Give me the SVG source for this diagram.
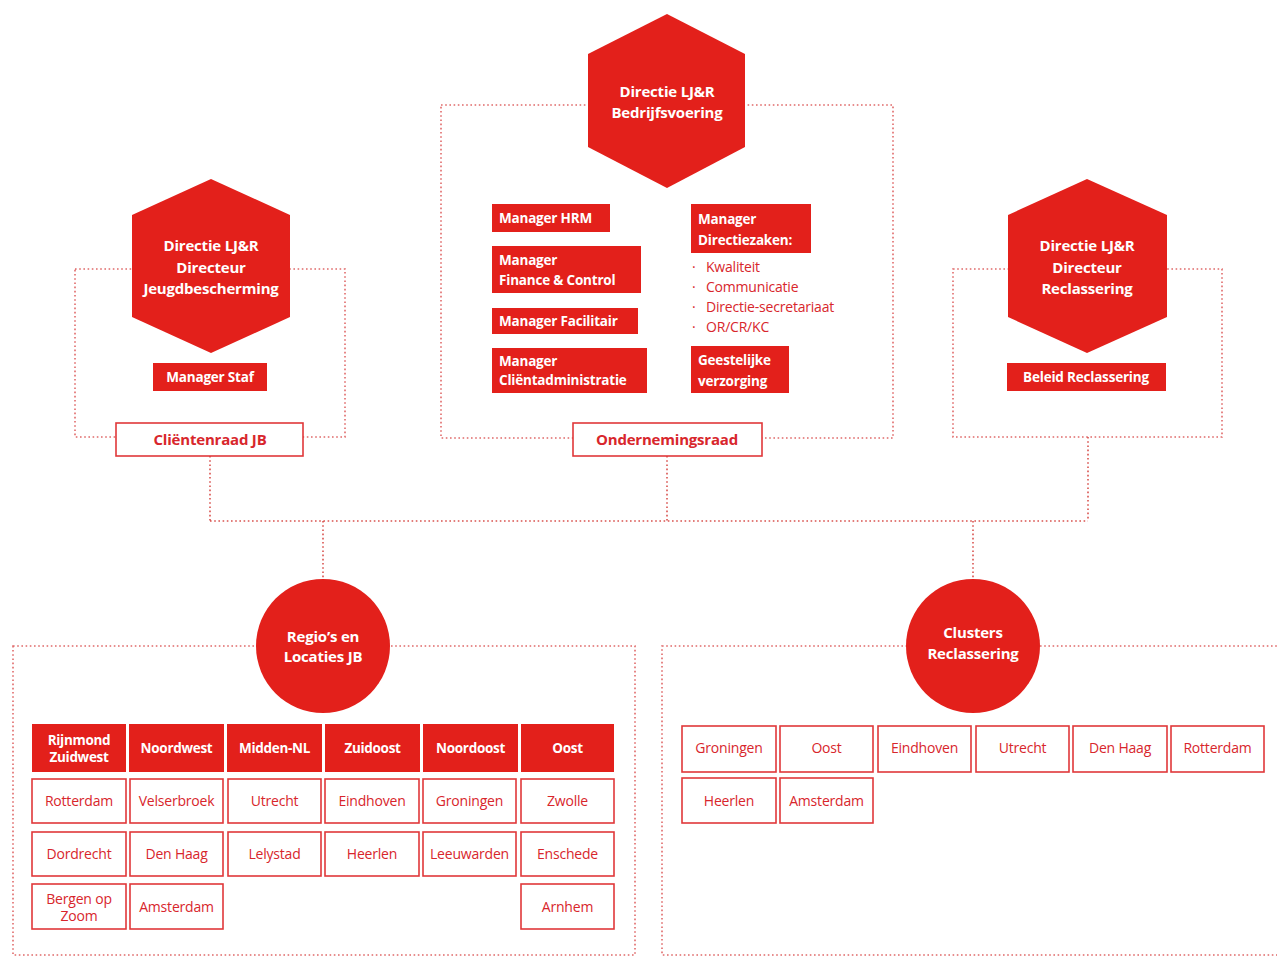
<svg xmlns="http://www.w3.org/2000/svg" width="1277" height="958" viewBox="0 0 1277 958">
<style>
.frame{fill:none;stroke:#e06a6a;stroke-width:1.6;stroke-dasharray:1.6 2.6}
.conn{fill:none;stroke:#d9534f;stroke-width:1.6;stroke-dasharray:1.6 2.6}
.red{fill:#e3201b}
.wbox{fill:#fff;stroke:#e0383a;stroke-width:1.6}
.wt{font-family:"Open Sans",Lato,sans-serif;font-weight:bold;fill:#fff;font-size:13.5px;letter-spacing:-0.2px}
.ht{font-family:"Open Sans",Lato,sans-serif;font-weight:bold;fill:#fff;font-size:15px;text-anchor:middle;letter-spacing:-0.2px}
.rt{font-family:"Open Sans",Lato,sans-serif;fill:#d8262c;font-size:14px;text-anchor:middle;letter-spacing:-0.2px}
.rtb{font-family:"Open Sans",Lato,sans-serif;font-weight:bold;fill:#d8262c;font-size:15px;text-anchor:middle;letter-spacing:-0.2px}
.bt{font-family:"Open Sans",Lato,sans-serif;fill:#d8262c;font-size:14px;letter-spacing:-0.2px}
.hc{font-family:"Open Sans",Lato,sans-serif;font-weight:bold;fill:#fff;font-size:13.5px;text-anchor:middle;letter-spacing:-0.3px}
</style>
<rect width="1277" height="958" fill="#fff"/>
<g id="frames">
<rect class="frame" x="441" y="105" width="452" height="333"/>
<rect class="frame" x="75" y="269" width="270" height="168"/>
<rect class="frame" x="953" y="269" width="269" height="168"/>
<rect class="frame" x="13" y="646" width="622" height="309"/>
<rect class="frame" x="662" y="646" width="630" height="309"/>
</g>
<g id="connectors">
<path class="conn" d="M210 456V521M667 456V521M1088 437V521M210 521H1088M323 521V580M973 521V580"/>
</g>
<g id="hex-bedrijfsvoering">
<polygon class="red" points="667,14 745,54 745,147 667,188 588,147 588,54"/>
<text class="ht" x="667" y="97">Directie LJ&amp;R</text>
<text class="ht" x="667" y="118">Bedrijfsvoering</text>
</g>
<g id="hex-jeugdbescherming">
<polygon class="red" points="211,179 290,215 290,317 211,353 132,317 132,215"/>
<text class="ht" x="211" y="251">Directie LJ&amp;R</text>
<text class="ht" x="211" y="273">Directeur</text>
<text class="ht" x="211" y="294">Jeugdbescherming</text>
</g>
<g id="hex-reclassering">
<polygon class="red" points="1087,179 1167,215 1167,317 1087,353 1008,317 1008,215"/>
<text class="ht" x="1087" y="251">Directie LJ&amp;R</text>
<text class="ht" x="1087" y="273">Directeur</text>
<text class="ht" x="1087" y="294">Reclassering</text>
</g>
<g id="manager-staf">
<rect class="red" x="153" y="363" width="114" height="28"/>
<text class="wt" x="210" y="382" text-anchor="middle">Manager Staf</text>
</g>
<g id="beleid-reclassering">
<rect class="red" x="1007" y="363" width="159" height="28"/>
<text class="wt" x="1086" y="382" text-anchor="middle">Beleid Reclassering</text>
</g>
<g id="clientenraad">
<rect class="wbox" x="116" y="423" width="187" height="33"/>
<text class="rtb" x="210" y="445">Cliëntenraad JB</text>
</g>
<g id="ondernemingsraad">
<rect class="wbox" x="573" y="423" width="189" height="33"/>
<text class="rtb" x="667" y="445">Ondernemingsraad</text>
</g>
<g id="manager-hrm">
<rect class="red" x="492" y="204" width="118" height="28"/>
<text class="wt" x="499" y="223">Manager HRM</text>
</g>
<g id="manager-finance">
<rect class="red" x="492" y="246" width="149" height="47"/>
<text class="wt" x="499" y="265">Manager</text>
<text class="wt" x="499" y="285">Finance &amp; Control</text>
</g>
<g id="manager-facilitair">
<rect class="red" x="492" y="308" width="146" height="26"/>
<text class="wt" x="499" y="326">Manager Facilitair</text>
</g>
<g id="manager-clientadministratie">
<rect class="red" x="492" y="348" width="155" height="45"/>
<text class="wt" x="499" y="366">Manager</text>
<text class="wt" x="499" y="385">Cliëntadministratie</text>
</g>
<g id="manager-directiezaken">
<rect class="red" x="691" y="204" width="120" height="49"/>
<text class="wt" x="698" y="224">Manager</text>
<text class="wt" x="698" y="245">Directiezaken:</text>
<text class="bt" x="692" y="272">·</text>
<text class="bt" x="706" y="272">Kwaliteit</text>
<text class="bt" x="692" y="292">·</text>
<text class="bt" x="706" y="292">Communicatie</text>
<text class="bt" x="692" y="312">·</text>
<text class="bt" x="706" y="312">Directie-secretariaat</text>
<text class="bt" x="692" y="332">·</text>
<text class="bt" x="706" y="332">OR/CR/KC</text>
</g>
<g id="geestelijke-verzorging">
<rect class="red" x="691" y="346" width="98" height="47"/>
<text class="wt" x="698" y="365">Geestelijke</text>
<text class="wt" x="698" y="386">verzorging</text>
</g>
<g id="regios-jb">
<circle class="red" cx="323" cy="646" r="67"/>
<text class="ht" x="323" y="642">Regio’s en</text>
<text class="ht" x="323" y="662">Locaties JB</text>
</g>
<g id="clusters-reclassering">
<circle class="red" cx="973" cy="646" r="67"/>
<text class="ht" x="973" y="638">Clusters</text>
<text class="ht" x="973" y="659">Reclassering</text>
</g>
<g id="jb-table">
<rect class="red" x="32" y="724" width="94" height="48"/>
<text class="hc" x="79" y="745">Rijnmond</text>
<text class="hc" x="79" y="762">Zuidwest</text>
<rect class="red" x="129" y="724" width="95" height="48"/>
<text class="hc" x="176.5" y="753">Noordwest</text>
<rect class="red" x="227" y="724" width="95" height="48"/>
<text class="hc" x="274.5" y="753">Midden-NL</text>
<rect class="red" x="325" y="724" width="95" height="48"/>
<text class="hc" x="372.5" y="753">Zuidoost</text>
<rect class="red" x="423" y="724" width="95" height="48"/>
<text class="hc" x="470.5" y="753">Noordoost</text>
<rect class="red" x="521" y="724" width="93" height="48"/>
<text class="hc" x="567.5" y="753">Oost</text>

<rect class="wbox" x="32" y="779" width="94" height="44"/><text class="rt" x="79" y="806">Rotterdam</text>
<rect class="wbox" x="130" y="779" width="93" height="44"/><text class="rt" x="176.5" y="806">Velserbroek</text>
<rect class="wbox" x="228" y="779" width="93" height="44"/><text class="rt" x="274.5" y="806">Utrecht</text>
<rect class="wbox" x="325" y="779" width="94" height="44"/><text class="rt" x="372" y="806">Eindhoven</text>
<rect class="wbox" x="423" y="779" width="93" height="44"/><text class="rt" x="469.5" y="806">Groningen</text>
<rect class="wbox" x="521" y="779" width="93" height="44"/><text class="rt" x="567.5" y="806">Zwolle</text>

<rect class="wbox" x="32" y="832" width="94" height="44"/><text class="rt" x="79" y="859">Dordrecht</text>
<rect class="wbox" x="130" y="832" width="93" height="44"/><text class="rt" x="176.5" y="859">Den Haag</text>
<rect class="wbox" x="228" y="832" width="93" height="44"/><text class="rt" x="274.5" y="859">Lelystad</text>
<rect class="wbox" x="325" y="832" width="94" height="44"/><text class="rt" x="372" y="859">Heerlen</text>
<rect class="wbox" x="423" y="832" width="93" height="44"/><text class="rt" x="469.5" y="859">Leeuwarden</text>
<rect class="wbox" x="521" y="832" width="93" height="44"/><text class="rt" x="567.5" y="859">Enschede</text>

<rect class="wbox" x="32" y="884" width="94" height="45"/><text class="rt" x="79" y="904">Bergen op</text><text class="rt" x="79" y="921">Zoom</text>
<rect class="wbox" x="130" y="884" width="93" height="45"/><text class="rt" x="176.5" y="912">Amsterdam</text>
<rect class="wbox" x="521" y="884" width="93" height="45"/><text class="rt" x="567.5" y="912">Arnhem</text>
</g>
<g id="reclassering-clusters">
<rect class="wbox" x="682" y="726" width="94" height="46"/><text class="rt" x="729" y="753">Groningen</text>
<rect class="wbox" x="780" y="726" width="93" height="46"/><text class="rt" x="826.5" y="753">Oost</text>
<rect class="wbox" x="878" y="726" width="93" height="46"/><text class="rt" x="924.5" y="753">Eindhoven</text>
<rect class="wbox" x="976" y="726" width="93" height="46"/><text class="rt" x="1022.5" y="753">Utrecht</text>
<rect class="wbox" x="1073" y="726" width="94" height="46"/><text class="rt" x="1120" y="753">Den Haag</text>
<rect class="wbox" x="1171" y="726" width="93" height="46"/><text class="rt" x="1217.5" y="753">Rotterdam</text>
<rect class="wbox" x="682" y="778" width="94" height="45"/><text class="rt" x="729" y="806">Heerlen</text>
<rect class="wbox" x="780" y="778" width="93" height="45"/><text class="rt" x="826.5" y="806">Amsterdam</text>
</g>
</svg>
